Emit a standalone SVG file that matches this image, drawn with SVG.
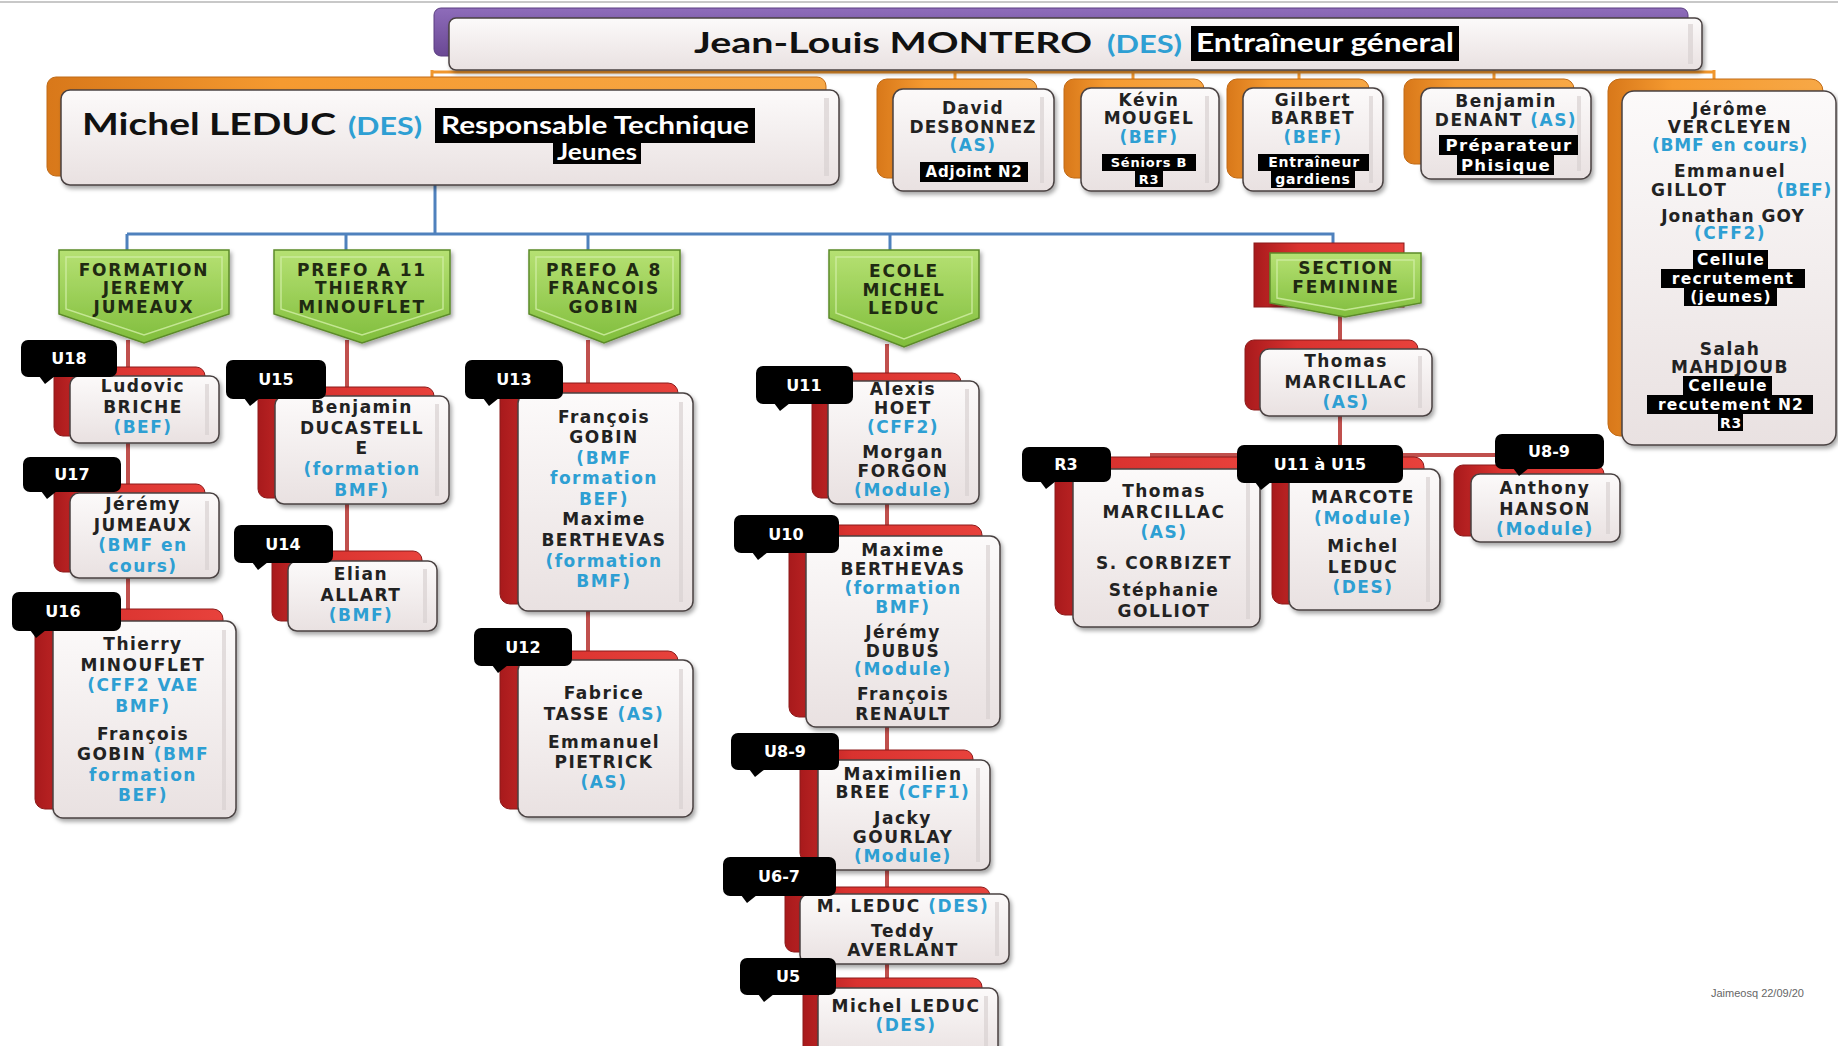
<svg xmlns="http://www.w3.org/2000/svg" width="1838" height="1046" viewBox="0 0 1838 1046">
<defs>
<linearGradient id="gW" x1="0" y1="0" x2="0" y2="1"><stop offset="0" stop-color="#fcfafa"/><stop offset="1" stop-color="#e9e1e1"/></linearGradient>
<linearGradient id="gR" x1="0" y1="0" x2="1" y2="0"><stop offset="0" stop-color="#a81a1c"/><stop offset="0.3" stop-color="#d9322f"/><stop offset="1" stop-color="#e8423c"/></linearGradient>
<linearGradient id="gO" x1="0" y1="0" x2="1" y2="0"><stop offset="0" stop-color="#d8781a"/><stop offset="0.3" stop-color="#f59a30"/><stop offset="1" stop-color="#f7a846"/></linearGradient>
<linearGradient id="gP" x1="0" y1="0" x2="0" y2="1"><stop offset="0" stop-color="#8e6cba"/><stop offset="1" stop-color="#6a4894"/></linearGradient>
<linearGradient id="gG" x1="0" y1="0" x2="0" y2="1"><stop offset="0" stop-color="#b6e173"/><stop offset="1" stop-color="#80bd3c"/></linearGradient>
<filter id="sh" x="-10%" y="-10%" width="130%" height="130%"><feDropShadow dx="2" dy="3" stdDeviation="2" flood-color="#000" flood-opacity="0.35"/></filter>
<style>
.front{fill:url(#gW);stroke:#4a4242;stroke-width:1.5;filter:url(#sh)}
.backR{fill:url(#gR);stroke:#8c1a1a;stroke-width:1}
.backO{fill:url(#gO);stroke:#c06a16;stroke-width:1}
.gloss{fill:#d9d2d2;opacity:0.7}
.pent{fill:url(#gG);stroke:#5c8a2a;stroke-width:1.5;filter:url(#sh)}
.bev{fill:none;stroke:#d2efa6;stroke-width:1.5;opacity:0.8}
.n{font-family:"DejaVu Sans","Liberation Sans",sans-serif;font-weight:bold;font-size:17px;letter-spacing:1.5px;fill:#222;text-anchor:middle}
.c{fill:#2e9fd3}
.pt{font-family:"DejaVu Sans","Liberation Sans",sans-serif;font-weight:bold;font-size:17px;letter-spacing:1.8px;fill:#1f2a12;text-anchor:middle}
.lb{font-family:"DejaVu Sans","Liberation Sans",sans-serif;font-weight:bold;font-size:15px;letter-spacing:0.8px;fill:#fff;text-anchor:middle}
.blk{fill:#000}
.tag rect,.tag path{fill:#000}
.tag text{font-family:"DejaVu Sans","Liberation Sans",sans-serif;font-weight:bold;font-size:16px;fill:#fff;text-anchor:middle}
.h{font-family:"Lato","Liberation Sans",sans-serif;font-weight:bold}
.cR{stroke:#c0504d;stroke-width:4;fill:none}
.cB{stroke:#4f81bd;stroke-width:3;fill:none}
.cO{stroke:#f0962d;stroke-width:3;fill:none}
</style>
</defs>
<rect x="0" y="0" width="1838" height="1046" fill="#fff"/>
<line x1="0" y1="2" x2="1838" y2="2" stroke="#c8c8c8" stroke-width="2"/>

<g id="connectors">
<path class="cO" d="M432,72 H1714 M432,70 V82 M955,70 V82 M1133,70 V82 M1299,70 V82 M1494,70 V82 M1714,70 V82"/>
<path class="cB" d="M435,185 V234 M127,234 H1333 V245 M127,234 V252 M346,234 V252 M588,234 V252 M890,234 V252"/>
<path class="cR" d="M128,340 V625 M347,340 V565 M588,340 V665 M887,344 V990 M1340,315 V352 M1340,414 V455 M1152,455 H1512 M1152,453 V472 M1512,453 V472"/>
</g>

<g id="node-montero">
<rect x="434" y="8" width="1254" height="48" rx="7" fill="url(#gP)" stroke="#5a3d80"/>
<rect class="front" x="449" y="18" width="1253" height="52" rx="7"/>
<rect class="gloss" x="1688" y="24" width="5" height="40"/>
<text class="h" x="694" y="53" font-size="29" textLength="398" lengthAdjust="spacingAndGlyphs" fill="#111">Jean-Louis MONTERO</text>
<text class="h c" x="1107" y="53" font-size="25" textLength="75" lengthAdjust="spacingAndGlyphs">(DES)</text>
<rect class="blk" x="1191" y="26" width="268" height="35"/>
<text class="h" x="1196" y="52" font-size="26" textLength="258" lengthAdjust="spacingAndGlyphs" fill="#fff">Entraîneur géneral</text>
</g>

<g id="node-leduc">
<rect class="backO" x="47" y="77" width="779" height="99" rx="9"/>
<rect class="front" x="61" y="90" width="778" height="95" rx="9"/>
<rect class="gloss" x="824" y="98" width="5" height="78"/>
<text class="h" x="82" y="135" font-size="30" textLength="254" lengthAdjust="spacingAndGlyphs" fill="#111">Michel LEDUC</text>
<text class="h c" x="348" y="135" font-size="25" textLength="74" lengthAdjust="spacingAndGlyphs">(DES)</text>
<rect class="blk" x="435" y="108" width="320" height="35"/>
<text class="h" x="441" y="134" font-size="25" textLength="308" lengthAdjust="spacingAndGlyphs" fill="#fff">Responsable Technique</text>
<rect class="blk" x="553" y="142" width="88" height="22"/>
<text class="h" x="557" y="160" font-size="23" textLength="80" lengthAdjust="spacingAndGlyphs" fill="#fff">Jeunes</text>
</g>

<g id="node-desbonnez">
<rect class="backO" x="877" y="79" width="160" height="99" rx="10"/>
<rect class="front" x="893" y="89" width="161" height="102" rx="10"/>
<rect class="gloss" x="1040" y="97" width="4" height="86"/>
<text class="n" x="973" y="114">David</text>
<text class="n" x="973" y="133" style="letter-spacing:1px">DESBONNEZ</text>
<text class="n c" x="973" y="151">(AS)</text>
<rect class="blk" x="920" y="162" width="108" height="20"/>
<text class="lb" x="974" y="177">Adjoint N2</text>
</g>

<g id="node-mougel">
<rect class="backO" x="1064" y="79" width="140" height="99" rx="10"/>
<rect class="front" x="1081" y="88" width="138" height="103" rx="10"/>
<rect class="gloss" x="1205" y="96" width="4" height="87"/>
<text class="n" x="1149" y="106">Kévin</text>
<text class="n" x="1149" y="124">MOUGEL</text>
<text class="n c" x="1149" y="143">(BEF)</text>
<rect class="blk" x="1102" y="154" width="94" height="17"/>
<text class="lb" x="1149" y="167" style="font-size:13px">Séniors B</text>
<rect class="blk" x="1135" y="171" width="28" height="16"/>
<text class="lb" x="1149" y="184" style="font-size:13px">R3</text>
</g>

<g id="node-barbet">
<rect class="backO" x="1227" y="79" width="142" height="99" rx="10"/>
<rect class="front" x="1243" y="88" width="140" height="103" rx="10"/>
<rect class="gloss" x="1369" y="96" width="4" height="87"/>
<text class="n" x="1313" y="106">Gilbert</text>
<text class="n" x="1313" y="124">BARBET</text>
<text class="n c" x="1313" y="143">(BEF)</text>
<rect class="blk" x="1258" y="154" width="111" height="17"/>
<text class="lb" x="1314" y="167" style="font-size:14px">Entraîneur</text>
<rect class="blk" x="1271" y="171" width="84" height="17"/>
<text class="lb" x="1313" y="184" style="font-size:14px">gardiens</text>
</g>

<g id="node-denant">
<rect class="backO" x="1404" y="79" width="170" height="85" rx="10"/>
<rect class="front" x="1421" y="88" width="170" height="91" rx="10"/>
<rect class="gloss" x="1577" y="96" width="4" height="75"/>
<text class="n" x="1506" y="107">Benjamin</text>
<text class="n" x="1506" y="126">DENANT <tspan class="c">(AS)</tspan></text>
<rect class="blk" x="1439" y="135" width="139" height="20"/>
<text class="lb" x="1509" y="151" style="font-size:16.5px;letter-spacing:1.3px">Préparateur</text>
<rect class="blk" x="1457" y="155" width="97" height="20"/>
<text class="lb" x="1506" y="171" style="font-size:16.5px;letter-spacing:1.3px">Phisique</text>
</g>

<g id="node-vercleyen">
<rect class="backO" x="1608" y="79" width="215" height="357" rx="12"/>
<rect class="front" x="1622" y="91" width="214" height="354" rx="12"/>
<text class="n" x="1730" y="115">Jérôme</text>
<text class="n" x="1730" y="133">VERCLEYEN</text>
<text class="n c" x="1730" y="151" style="letter-spacing:0.8px">(BMF en cours)</text>
<text class="n" x="1730" y="177">Emmanuel</text>
<text class="n" x="1651" y="196" style="text-anchor:start">GILLOT</text>
<text class="n c" x="1832" y="196" style="text-anchor:end;letter-spacing:0.8px">(BEF)</text>
<text class="n" x="1733" y="222" style="letter-spacing:1px">Jonathan GOY</text>
<text class="n c" x="1730" y="239">(CFF2)</text>
<rect class="blk" x="1693" y="250" width="75" height="19"/>
<text class="lb" x="1731" y="265" style="font-size:15.5px;letter-spacing:1.2px">Cellule</text>
<rect class="blk" x="1661" y="269" width="144" height="19"/>
<text class="lb" x="1733" y="284" style="font-size:15.5px;letter-spacing:1.2px">recrutement</text>
<rect class="blk" x="1684" y="288" width="93" height="18"/>
<text class="lb" x="1731" y="302" style="font-size:15.5px;letter-spacing:1.2px">(jeunes)</text>
<text class="n" x="1730" y="355">Salah</text>
<text class="n" x="1730" y="373">MAHDJOUB</text>
<rect class="blk" x="1683" y="376" width="89" height="19"/>
<text class="lb" x="1728" y="391" style="font-size:15.5px;letter-spacing:1.2px">Celleule</text>
<rect class="blk" x="1647" y="395" width="166" height="19"/>
<text class="lb" x="1731" y="410" style="font-size:15.5px;letter-spacing:1.2px">recutement N2</text>
<rect class="blk" x="1718" y="414" width="25" height="17"/>
<text class="lb" x="1731" y="428" style="font-size:14px">R3</text>
</g>

<g id="node-formation">
<path class="pent" d="M59,250 H229 V314 L144,343 L59,314 Z"/>
<path class="bev" d="M66,257 H222 V309 L144,335 L66,309 Z"/>
<text class="pt" x="144" y="276">FORMATION</text>
<text class="pt" x="144" y="294">JEREMY</text>
<text class="pt" x="144" y="313">JUMEAUX</text>
</g>

<g id="node-prefo11">
<path class="pent" d="M274,250 H450 V314 L362,343 L274,314 Z"/>
<path class="bev" d="M281,257 H443 V309 L362,335 L281,309 Z"/>
<text class="pt" x="362" y="276">PREFO A 11</text>
<text class="pt" x="362" y="294">THIERRY</text>
<text class="pt" x="362" y="313">MINOUFLET</text>
</g>

<g id="node-prefo8">
<path class="pent" d="M529,250 H680 V314 L604,343 L529,314 Z"/>
<path class="bev" d="M536,257 H673 V309 L604,335 L536,309 Z"/>
<text class="pt" x="604" y="276">PREFO A 8</text>
<text class="pt" x="604" y="294">FRANCOIS</text>
<text class="pt" x="604" y="313">GOBIN</text>
</g>

<g id="node-ecole">
<path class="pent" d="M829,250 H979 V318 L904,347 L829,318 Z"/>
<path class="bev" d="M836,257 H972 V313 L904,339 L836,313 Z"/>
<text class="pt" x="904" y="277">ECOLE</text>
<text class="pt" x="904" y="296">MICHEL</text>
<text class="pt" x="904" y="314">LEDUC</text>
</g>

<g id="node-section">
<rect class="backR" x="1254" y="243" width="150" height="64"/>
<path class="pent" d="M1270,253 H1421 V303 L1345,317 L1270,303 Z"/>
<path class="bev" d="M1277,260 H1414 V298 L1345,310 L1277,298 Z"/>
<text class="pt" x="1346" y="274">SECTION</text>
<text class="pt" x="1346" y="293">FEMININE</text>
</g>

<g id="node-u18">
<rect class="backR" x="54" y="367" width="151" height="69" rx="9"/>
<rect class="front" x="70" y="376" width="149" height="67" rx="9"/>
<rect class="gloss" x="205" y="384" width="4" height="51"/>
<text class="n" x="143" y="392">Ludovic</text>
<text class="n" x="143" y="413">BRICHE</text>
<text class="n c" x="143" y="433">(BEF)</text>
</g>
<g id="tag-u18" class="tag"><rect x="21" y="340" width="96" height="37" rx="7"/><path d="M39,376 L45,384 L55,376 Z"/><text x="69" y="364">U18</text></g>

<g id="node-u17">
<rect class="backR" x="54" y="484" width="151" height="88" rx="9"/>
<rect class="front" x="70" y="493" width="149" height="85" rx="9"/>
<rect class="gloss" x="205" y="501" width="4" height="69"/>
<text class="n" x="143" y="510">Jérémy</text>
<text class="n" x="143" y="531">JUMEAUX</text>
<text class="n c" x="143" y="551">(BMF en</text>
<text class="n c" x="143" y="572">cours)</text>
</g>
<g id="tag-u17" class="tag"><rect x="23" y="457" width="98" height="35" rx="7"/><path d="M41,491 L47,499 L57,491 Z"/><text x="72" y="480">U17</text></g>

<g id="node-u16">
<rect class="backR" x="35" y="609" width="188" height="200" rx="10"/>
<rect class="front" x="53" y="621" width="183" height="197" rx="10"/>
<rect class="gloss" x="222" y="630" width="4" height="180"/>
<text class="n" x="143" y="650">Thierry</text>
<text class="n" x="143" y="671">MINOUFLET</text>
<text class="n c" x="143" y="691">(CFF2 VAE</text>
<text class="n c" x="143" y="712">BMF)</text>
<text class="n" x="143" y="740">François</text>
<text class="n" x="143" y="760">GOBIN <tspan class="c">(BMF</tspan></text>
<text class="n c" x="143" y="781">formation</text>
<text class="n c" x="143" y="801">BEF)</text>
</g>
<g id="tag-u16" class="tag"><rect x="12" y="592" width="109" height="39" rx="7"/><path d="M30,630 L36,638 L46,630 Z"/><text x="63" y="617">U16</text></g>

<g id="node-u15">
<rect class="backR" x="258" y="387" width="176" height="111" rx="9"/>
<rect class="front" x="275" y="396" width="174" height="108" rx="9"/>
<rect class="gloss" x="435" y="404" width="4" height="92"/>
<text class="n" x="362" y="413">Benjamin</text>
<text class="n" x="362" y="434">DUCASTELL</text>
<text class="n" x="362" y="454">E</text>
<text class="n c" x="362" y="475">(formation</text>
<text class="n c" x="362" y="496">BMF)</text>
</g>
<g id="tag-u15" class="tag"><rect x="226" y="360" width="100" height="39" rx="7"/><path d="M244,398 L250,406 L260,398 Z"/><text x="276" y="385">U15</text></g>

<g id="node-u14">
<rect class="backR" x="272" y="551" width="150" height="70" rx="9"/>
<rect class="front" x="288" y="561" width="149" height="70" rx="9"/>
<rect class="gloss" x="423" y="569" width="4" height="54"/>
<text class="n" x="361" y="580">Elian</text>
<text class="n" x="361" y="601">ALLART</text>
<text class="n c" x="361" y="621">(BMF)</text>
</g>
<g id="tag-u14" class="tag"><rect x="234" y="525" width="99" height="38" rx="7"/><path d="M252,562 L258,570 L268,562 Z"/><text x="283" y="550">U14</text></g>

<g id="node-u13">
<rect class="backR" x="500" y="383" width="178" height="221" rx="10"/>
<rect class="front" x="518" y="393" width="175" height="218" rx="10"/>
<rect class="gloss" x="679" y="402" width="4" height="200"/>
<text class="n" x="604" y="423">François</text>
<text class="n" x="604" y="443">GOBIN</text>
<text class="n c" x="604" y="464">(BMF</text>
<text class="n c" x="604" y="484">formation</text>
<text class="n c" x="604" y="505">BEF)</text>
<text class="n" x="604" y="525">Maxime</text>
<text class="n" x="604" y="546">BERTHEVAS</text>
<text class="n c" x="604" y="567">(formation</text>
<text class="n c" x="604" y="587">BMF)</text>
</g>
<g id="tag-u13" class="tag"><rect x="465" y="360" width="98" height="39" rx="7"/><path d="M483,398 L489,406 L499,398 Z"/><text x="514" y="385">U13</text></g>

<g id="node-u12">
<rect class="backR" x="500" y="651" width="178" height="158" rx="10"/>
<rect class="front" x="518" y="660" width="175" height="157" rx="10"/>
<rect class="gloss" x="679" y="669" width="4" height="140"/>
<text class="n" x="604" y="699">Fabrice</text>
<text class="n" x="604" y="720">TASSE <tspan class="c">(AS)</tspan></text>
<text class="n" x="604" y="748">Emmanuel</text>
<text class="n" x="604" y="768">PIETRICK</text>
<text class="n c" x="604" y="788">(AS)</text>
</g>
<g id="tag-u12" class="tag"><rect x="474" y="628" width="98" height="38" rx="7"/><path d="M492,665 L498,673 L508,665 Z"/><text x="523" y="653">U12</text></g>

<g id="node-u11">
<rect class="backR" x="812" y="373" width="149" height="125" rx="9"/>
<rect class="front" x="828" y="381" width="151" height="123" rx="9"/>
<rect class="gloss" x="965" y="389" width="4" height="107"/>
<text class="n" x="903" y="395">Alexis</text>
<text class="n" x="903" y="414">HOET</text>
<text class="n c" x="903" y="433">(CFF2)</text>
<text class="n" x="903" y="458">Morgan</text>
<text class="n" x="903" y="477">FORGON</text>
<text class="n c" x="903" y="496">(Module)</text>
</g>
<g id="tag-u11" class="tag"><rect x="756" y="366" width="97" height="38" rx="7"/><path d="M774,403 L780,411 L790,403 Z"/><text x="804" y="391">U11</text></g>

<g id="node-u10">
<rect class="backR" x="789" y="525" width="193" height="192" rx="10"/>
<rect class="front" x="806" y="536" width="194" height="191" rx="10"/>
<rect class="gloss" x="986" y="545" width="4" height="174"/>
<text class="n" x="903" y="556">Maxime</text>
<text class="n" x="903" y="575">BERTHEVAS</text>
<text class="n c" x="903" y="594">(formation</text>
<text class="n c" x="903" y="613">BMF)</text>
<text class="n" x="903" y="638">Jérémy</text>
<text class="n" x="903" y="657">DUBUS</text>
<text class="n c" x="903" y="675">(Module)</text>
<text class="n" x="903" y="700">François</text>
<text class="n" x="903" y="720">RENAULT</text>
</g>
<g id="tag-u10" class="tag"><rect x="734" y="515" width="105" height="38" rx="7"/><path d="M752,552 L758,560 L768,552 Z"/><text x="786" y="540">U10</text></g>

<g id="node-u89">
<rect class="backR" x="800" y="750" width="173" height="112" rx="9"/>
<rect class="front" x="818" y="760" width="172" height="110" rx="9"/>
<rect class="gloss" x="976" y="768" width="4" height="94"/>
<text class="n" x="903" y="780">Maximilien</text>
<text class="n" x="903" y="798">BREE <tspan class="c">(CFF1)</tspan></text>
<text class="n" x="903" y="824">Jacky</text>
<text class="n" x="903" y="843">GOURLAY</text>
<text class="n c" x="903" y="862">(Module)</text>
</g>
<g id="tag-u89" class="tag"><rect x="731" y="733" width="108" height="37" rx="7"/><path d="M749,769 L755,777 L765,769 Z"/><text x="785" y="757">U8-9</text></g>

<g id="node-u67">
<rect class="backR" x="785" y="887" width="205" height="65" rx="9"/>
<rect class="front" x="800" y="894" width="209" height="70" rx="9"/>
<rect class="gloss" x="995" y="902" width="4" height="54"/>
<text class="n" x="903" y="912">M. LEDUC <tspan class="c">(DES)</tspan></text>
<text class="n" x="903" y="937">Teddy</text>
<text class="n" x="903" y="956">AVERLANT</text>
</g>
<g id="tag-u67" class="tag"><rect x="723" y="857" width="113" height="39" rx="7"/><path d="M741,895 L747,903 L757,895 Z"/><text x="779" y="882">U6-7</text></g>

<g id="node-u5">
<rect class="backR" x="803" y="978" width="179" height="80" rx="9"/>
<rect class="front" x="818" y="988" width="180" height="70" rx="9"/>
<rect class="gloss" x="984" y="996" width="4" height="50"/>
<text class="n" x="906" y="1012">Michel LEDUC</text>
<text class="n c" x="906" y="1031">(DES)</text>
</g>
<g id="tag-u5" class="tag"><rect x="740" y="958" width="96" height="37" rx="7"/><path d="M758,994 L764,1002 L774,994 Z"/><text x="788" y="982">U5</text></g>

<g id="node-marcillac">
<rect class="backR" x="1245" y="340" width="173" height="70" rx="9"/>
<rect class="front" x="1260" y="349" width="172" height="67" rx="9"/>
<rect class="gloss" x="1418" y="356" width="4" height="52"/>
<text class="n" x="1346" y="367">Thomas</text>
<text class="n" x="1346" y="388">MARCILLAC</text>
<text class="n c" x="1346" y="408">(AS)</text>
</g>

<g id="node-r3">
<rect class="backR" x="1055" y="457" width="193" height="158" rx="10"/>
<rect class="front" x="1073" y="469" width="187" height="158" rx="10"/>
<rect class="gloss" x="1246" y="477" width="4" height="142"/>
<text class="n" x="1164" y="497">Thomas</text>
<text class="n" x="1164" y="518">MARCILLAC</text>
<text class="n c" x="1164" y="538">(AS)</text>
<text class="n" x="1164" y="569">S. CORBIZET</text>
<text class="n" x="1164" y="596">Stéphanie</text>
<text class="n" x="1164" y="617">GOLLIOT</text>
</g>
<g id="tag-r3" class="tag"><rect x="1022" y="447" width="89" height="35" rx="7"/><path d="M1040,481 L1046,489 L1056,481 Z"/><text x="1066" y="470">R3</text></g>

<g id="node-u1115">
<rect class="backR" x="1272" y="457" width="152" height="147" rx="10"/>
<rect class="front" x="1289" y="469" width="151" height="141" rx="10"/>
<rect class="gloss" x="1426" y="477" width="4" height="125"/>
<text class="n" x="1363" y="503">MARCOTE</text>
<text class="n c" x="1363" y="524">(Module)</text>
<text class="n" x="1363" y="552">Michel</text>
<text class="n" x="1363" y="573">LEDUC</text>
<text class="n c" x="1363" y="593">(DES)</text>
</g>
<g id="tag-u1115" class="tag"><rect x="1237" y="445" width="166" height="38" rx="7"/><path d="M1255,482 L1261,490 L1271,482 Z"/><text x="1320" y="470">U11 à U15</text></g>

<g id="node-hanson">
<rect class="backR" x="1454" y="465" width="150" height="71" rx="9"/>
<rect class="front" x="1471" y="474" width="149" height="68" rx="9"/>
<rect class="gloss" x="1606" y="482" width="4" height="52"/>
<text class="n" x="1545" y="494">Anthony</text>
<text class="n" x="1545" y="515">HANSON</text>
<text class="n c" x="1545" y="535">(Module)</text>
</g>
<g id="tag-u89f" class="tag"><rect x="1495" y="434" width="109" height="35" rx="7"/><path d="M1513,468 L1519,476 L1529,468 Z"/><text x="1549" y="457">U8-9</text></g>

<text x="1711" y="997" font-family="Liberation Sans, sans-serif" font-size="11" fill="#666">Jaimeosq 22/09/20</text>
</svg>
